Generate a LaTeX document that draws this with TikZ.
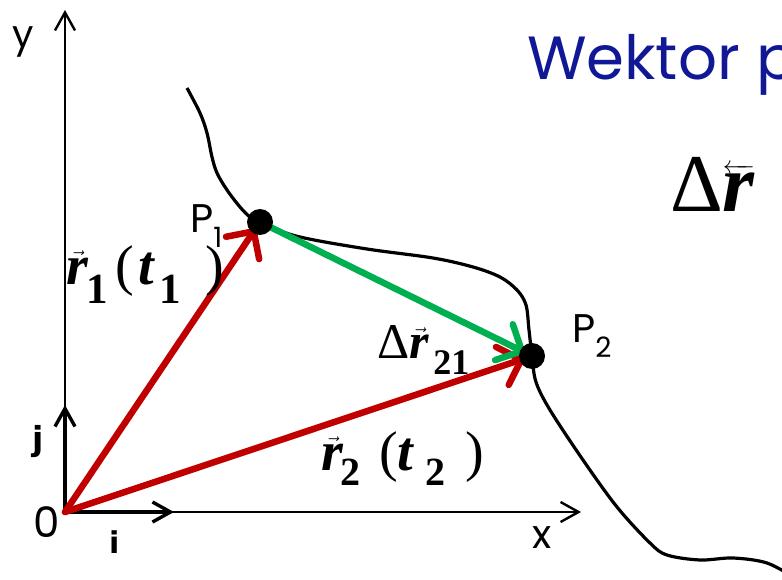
\documentclass[tikz,border=0pt]{standalone}
\usepackage{fontspec}
\usepackage{amsmath}
\usetikzlibrary{arrows.meta}
\newfontfamily\tms{Liberation Serif}
\newfontfamily\gth{Poppins}
\newfontfamily\djv{DejaVu Sans}
\definecolor{vred}{RGB}{192,0,0}
\definecolor{vgreen}{RGB}{0,176,80}
\definecolor{tblue}{RGB}{16,24,150}
\newcommand\myvr{$\vec{\text{\bfseries\itshape r}}$}
\newcommand\mysub[3]{\raisebox{-#2}{\fontsize{#1}{#1}\selectfont\bfseries #3}}
\newcommand\pc[2]{\makebox[#1][l]{#2}}
\begin{document}
\begin{tikzpicture}[x=1pt,y=-1pt,
  axis/.style={line width=2.4pt,-{Straight Barb[length=18pt,width=20pt]}},
  unitvec/.style={line width=3.4pt,-{Straight Barb[length=18pt,width=20pt]}},
  disp/.style={line width=6.5pt,line cap=round,-{Straight Barb[length=20pt,width=40pt,round]}},
  dot/.style={circle,fill=black,inner sep=0pt,minimum size=26pt},
  trajectory/.style={line width=3.2pt},
  lbl/.style={inner sep=0pt,anchor=base west}]
\useasboundingbox (0,0) rectangle (782,580);
\clip (0,0) rectangle (782,580);
\coordinate (O) at (65,512);
\coordinate (ytip) at (65,10);
\coordinate (xtip) at (581,512);
\coordinate (jtip) at (65,405);
\coordinate (itip) at (174,512);
\coordinate (c1) at (260,222);
\coordinate (c2) at (532,356);
% axes and unit vectors
\draw[axis] (O) -- (ytip);
\draw[axis] (O) -- (xtip);
\draw[unitvec] (O) -- (jtip);
\draw[unitvec] (O) -- (itip);
% trajectory
\draw[trajectory] plot[smooth,tension=0.55] coordinates {
 (187,88) (200,113) (207,133) (212,157) (217,173) (227,190) (240,207) (250,217)
 (262,224) (300,237) (367,249) (433,258) (473,267) (500,277) (517,290)
 (526,305) (529,330) (532,356) (536,382) (550,410) (583,460) (617,507)
 (650,543) (667,555) (700,560) (733,558) (767,563) (795,578)};
% position and displacement vectors
\draw[disp,vred,shorten >=8pt] (O) -- (c1);
\draw[disp,vred,shorten >=8pt] (O) -- (c2);
\draw[disp,vgreen,shorten >=8pt,shorten <=4pt] (c1) -- (c2);
\node[dot] (P1) at (c1) {};
\node[dot] (P2) at (c2) {};
% texts
\node[lbl,text=tblue] (title) at (527,80) {\gth\fontsize{61}{61}\selectfont Wektor p};
\node[lbl] (dr) at (670,212) {\tms\fontsize{82}{82}\selectfont Δ$\overleftarrow{\text{\bfseries\itshape r}}$};
\node[lbl] (r1) at (66,284) {\tms\fontsize{56}{56}\selectfont
  \pc{20pt}{\myvr}\pc{29pt}{\mysub{43}{19pt}{1}}\pc{23pt}{(}\pc{21pt}{\bfseries\itshape t}\pc{46pt}{\mysub{43}{19pt}{1}})};
\node[lbl] (r2) at (321,470) {\tms\fontsize{56}{56}\selectfont
  \pc{19pt}{\myvr}\pc{39pt}{\mysub{40}{15pt}{2}}\pc{18pt}{(}\pc{28pt}{\bfseries\itshape t}\pc{40pt}{\mysub{40}{15pt}{2}})};
\node[lbl] (dr21) at (377,358) {\tms\fontsize{50}{50}\selectfont Δ\pc{24pt}{\myvr}\mysub{36}{16pt}{21}};
\node[lbl] (p1lab) at (190,233) {\gth\fontsize{40}{40}\selectfont P\raisebox{-15pt}{\fontsize{28}{28}\selectfont 1}};
\node[lbl] (p2lab) at (572,342) {\gth\fontsize{40}{40}\selectfont P\raisebox{-15pt}{\fontsize{28}{28}\selectfont 2}};
\node[lbl] (ylab) at (12,48) {\gth\fontsize{38}{38}\selectfont y};
\node[lbl] (olab) at (33,537) {\gth\fontsize{42}{42}\selectfont 0};
\node[lbl] (xlab) at (532,548) {\gth\fontsize{40}{40}\selectfont x};
\node[lbl] (jlab) at (32,450) {\djv\bfseries\fontsize{33}{33}\selectfont j};
\node[lbl] (ilab) at (109,553) {\djv\bfseries\fontsize{30}{30}\selectfont i};
\end{tikzpicture}
\end{document}
